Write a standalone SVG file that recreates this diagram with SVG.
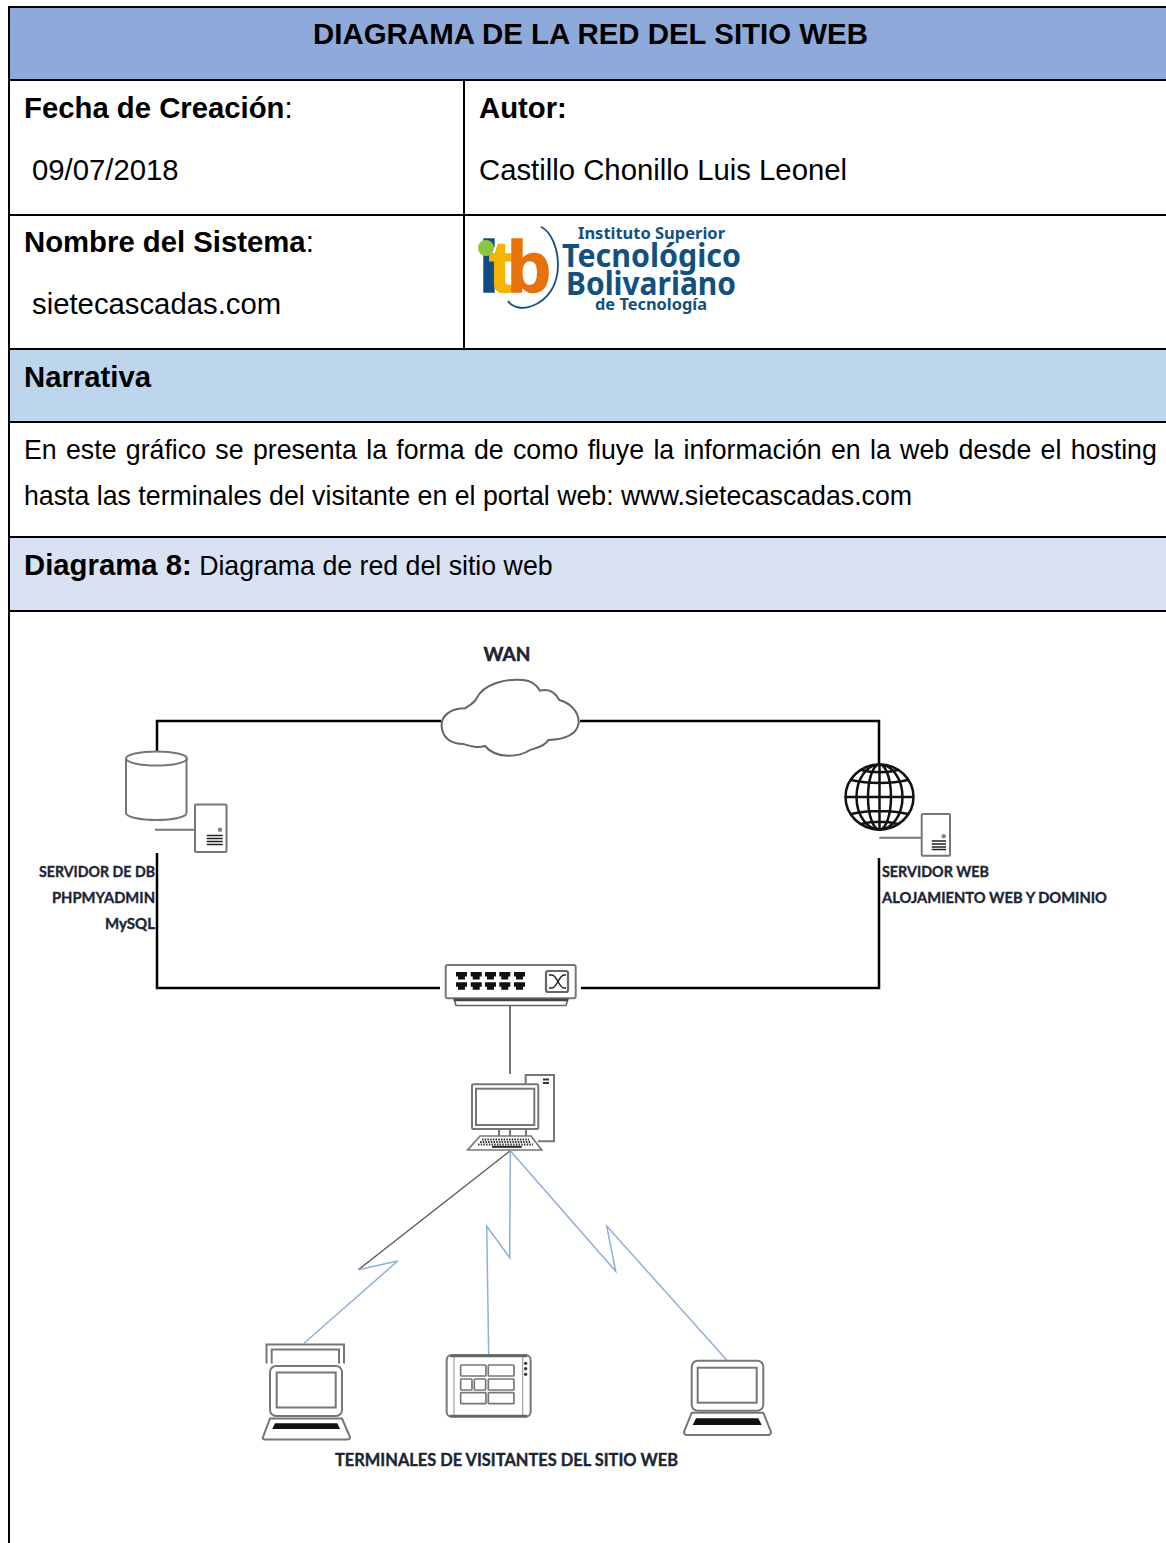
<svg xmlns="http://www.w3.org/2000/svg" width="1166" height="1543" viewBox="0 0 1166 1543">
<style>
text{font-family:"Liberation Sans",Arial,sans-serif;fill:#000}
.b{font-weight:bold}
.h{font-size:29.300px}
.p{font-size:29.300px}
.t{font-size:26.730px}
.l{font-family:Lato,"Liberation Sans",sans-serif;font-weight:bold;font-size:15px;fill:#1b2533;stroke:#1b2533;stroke-width:.35}
.g{fill:none;stroke:#111;stroke-width:2.5}
.i{fill:#fff;stroke:#777;stroke-width:2}
.n{fill:none;stroke:#777;stroke-width:2}
.d{fill:#111}
.w{fill:none;stroke-width:1.5;stroke:#8fb0d9}
.logo{font-family:"Noto Sans","Liberation Sans",sans-serif;font-weight:bold;fill:#12507f}
</style>
<rect width="1166" height="1543" fill="#fff"/>
<g id="table">
<rect x="9" y="7" width="1157" height="73" fill="#8eaadb"/>
<rect x="9" y="349" width="1157" height="73" fill="#bdd6ee"/>
<rect x="9" y="537" width="1157" height="74" fill="#d9e2f3"/>
<path d="M9,7H1166M9,80H1166M9,215H1166M9,349H1166M9,422H1166M9,537H1166M9,611H1166M9,6V1543M464,80V349" fill="none" stroke="#000" stroke-width="2"/>
<text class="b" style="font-size:29.450px" x="590.500" y="44" text-anchor="middle">DIAGRAMA DE LA RED DEL SITIO WEB</text>
<text class="h" x="24" y="118"><tspan class="b">Fecha de Creación</tspan>:</text>
<text class="p" x="32" y="180">09/07/2018</text>
<text class="b h" x="479" y="118">Autor:</text>
<text class="p" x="479" y="180">Castillo Chonillo Luis Leonel</text>
<text class="h" x="24" y="252"><tspan class="b">Nombre del Sistema</tspan>:</text>
<text class="p" x="32" y="314">sietecascadas.com</text>
<text class="b h" x="24" y="387">Narrativa</text>
<text class="t" x="24" y="459" word-spacing="1.900">En este gráfico se presenta la forma de como fluye la información en la web desde el hosting</text>
<text class="t" x="24" y="505">hasta las terminales del visitante en el portal web: www.sietecascadas.com</text>
<text class="t" x="24" y="575"><tspan class="b h">Diagrama 8:</tspan> Diagrama de red del sitio web</text>
</g>
<g id="logo">
<path d="M541,226.700C552,232 558,250 558,265C558,285 548,300 532,306C522,310 512,307 508,301" fill="none" stroke="#12507f" stroke-width="1.800"/>
<text x="479" y="292" font-size="72" font-weight="bold" stroke-width="1.500"><tspan x="479" fill="#0f4c81" stroke="#0f4c81">i</tspan><tspan x="489" fill="#f4b400" stroke="#f4b400">t</tspan><tspan x="507" fill="#e8710a" stroke="#e8710a">b</tspan></text>
<circle cx="486" cy="248" r="8" fill="#8cc63f"/>
<text class="logo" x="578" y="239" font-size="16" textLength="147" lengthAdjust="spacingAndGlyphs">Instituto Superior</text>
<text class="logo" x="562" y="267" font-size="32" textLength="179" lengthAdjust="spacingAndGlyphs">Tecnológico</text>
<text class="logo" x="566" y="295" font-size="32" textLength="170" lengthAdjust="spacingAndGlyphs">Bolivariano</text>
<text class="logo" x="595" y="310" font-size="16" textLength="112" lengthAdjust="spacingAndGlyphs">de Tecnología</text>
</g>
<g id="connectors">
<path d="M157,751V721H441M580,721H879V765M157,853V988H440M581,988H879V858" fill="none" stroke="#000" stroke-width="2.500"/>
<path d="M510,1006V1074" fill="none" stroke="#444" stroke-width="1.500"/>
<path d="M510.300,1150.700L358.300,1269.700" fill="none" stroke="#555" stroke-width="1.400"/>
<path class="w" d="M358.300,1269.700L397.700,1261L304,1343.300"/>
<path class="w" d="M510.300,1150.700L509.700,1257.700L486.700,1226L488.700,1355"/>
<path class="w" d="M510.300,1150.700L615.700,1271.300L606.700,1226L726.700,1360"/>
</g>
<g id="cloud" transform="translate(420 640) scale(.3333)">
<path d="M65,260C62,225 95,205 135,205C150,195 160,190 168,178C190,130 260,115 310,120C335,122 350,135 360,152C385,145 405,155 418,180C455,190 478,220 476,250C470,285 430,298 385,300C375,320 345,325 330,330C300,350 230,360 195,318C170,325 150,318 130,312C95,312 68,295 65,260Z" fill="#fff" stroke="#666" stroke-width="6"/>
</g>
<text id="wan" class="l" x="507" y="661" text-anchor="middle" style="font-size:19px;stroke-width:.5">WAN</text>
<g id="db">
<path class="n" d="M126,758V813C126,817 140,820 156.500,820C173,820 186.500,817 186.500,813V758"/>
<ellipse class="n" cx="156.500" cy="758.500" rx="30.500" ry="7"/>
<path class="n" d="M155,829.700H195"/>
<rect class="i" x="195" y="804.500" width="31.500" height="47.500" rx="1"/>
<circle cx="220" cy="829.700" r="2.300" fill="#888"/>
<path d="M206.700,835.500H222.700M206.700,838.500H222.700M206.700,841.500H222.700M206.700,844.500H222.700" stroke="#222" stroke-width="1.700"/>
<text class="l" x="155" y="877" text-anchor="end" textLength="116" lengthAdjust="spacingAndGlyphs">SERVIDOR DE DB</text>
<text class="l" x="155" y="903" text-anchor="end" textLength="103" lengthAdjust="spacingAndGlyphs">PHPMYADMIN</text>
<text class="l" x="155" y="929" text-anchor="end" textLength="50" lengthAdjust="spacingAndGlyphs">MySQL</text>
</g>
<g id="web">
<g class="g">
<ellipse cx="879.500" cy="797" rx="34" ry="32.500"/>
<ellipse cx="879.500" cy="797" rx="23" ry="32.500"/>
<ellipse cx="879.500" cy="797" rx="11.500" ry="32.500"/>
<path d="M879.500,764.500V829.500M846,797H913M851,780C868,784 891,784 908,780M851,814C868,810 891,810 908,814M861,770C872,773 887,773 898,770M861,824C872,821 887,821 898,824"/>
</g>
<path class="n" d="M879.300,837.700H921.700"/>
<rect class="i" x="921.700" y="814" width="28.300" height="41.700" rx="1"/>
<circle cx="943.700" cy="836.300" r="2.300" fill="#888"/>
<path d="M931.700,841H946M931.700,844H946M931.700,847H946M931.700,849.500H946" stroke="#222" stroke-width="1.600"/>
<text class="l" x="882" y="877" textLength="107" lengthAdjust="spacingAndGlyphs">SERVIDOR WEB</text>
<text class="l" x="882" y="903" textLength="225" lengthAdjust="spacingAndGlyphs">ALOJAMIENTO WEB Y DOMINIO</text>
</g>
<g id="switch">
<rect class="i" x="445.700" y="965" width="130" height="33.300" rx="2"/>
<path d="M454,999H568L566,1005.500H456Z" fill="#fff" stroke="#666" stroke-width="1.600"/>
<path d="M454,1000H568" stroke="#444" stroke-width="2.500"/>
<g fill="#111">
<path id="port" d="M456,972H467V976.500H465V979.500H458V976.500H456Z"/>
<use href="#port" x="14.700"/><use href="#port" x="29"/><use href="#port" x="43.300"/><use href="#port" x="58"/>
<use href="#port" y="10.300"/><use href="#port" x="14.700" y="10.300"/><use href="#port" x="29" y="10.300"/><use href="#port" x="43.300" y="10.300"/><use href="#port" x="58" y="10.300"/>
</g>
<rect x="546" y="971" width="22" height="21" rx="2" fill="#fff" stroke="#666" stroke-width="2.200"/>
<path d="M549,975H552C557,975 559,988 564,988H566M549,988H552C557,988 559,975 564,975H566" fill="none" stroke="#222" stroke-width="1.500"/>
</g>
<g id="pc">
<path class="n" d="M525.700,1084V1075H554V1141.300H538"/>
<path class="n" d="M543,1079.500H549M543,1083H549" style="stroke:#333"/>
<rect class="i" x="472" y="1084.300" width="66.300" height="44.700" rx="1.500"/>
<rect class="n" x="476" y="1088.700" width="58.300" height="36.300"/>
<path class="n" d="M499,1129V1136M510,1129V1136M526,1129V1136"/>
<path d="M480,1136H531L541.700,1150H467.700Z" fill="#fff" stroke="#777" stroke-width="1.700"/>
<path d="M482,1139.500H529M480,1142H531M478,1144.500H533" stroke="#333" stroke-width="1.800" stroke-dasharray="1.500 1.200"/>
<path d="M492,1146.800H521.700" stroke="#222" stroke-width="2"/>
</g>
<g id="laptop1">
<path class="n" d="M266.500,1363.500V1344.500H344V1363.500M271.700,1363.500V1349.500H339V1363.500"/>
<rect class="n" x="270" y="1366" width="72" height="50" rx="6"/>
<rect class="n" x="276.700" y="1372.500" width="59" height="35"/>
<path d="M270,1418.500H342L350,1437C350,1439 348,1439.500 347,1439.500H265C263,1439.500 262.500,1438 263,1437Z" fill="#fff" stroke="#777" stroke-width="2"/>
<path class="d" d="M275,1423.300H337.300L340,1429H272.300Z"/>
</g>
<g id="tablet" transform="translate(250 1330) scale(.3333)">
<rect x="590" y="75" width="252" height="185" rx="15" fill="#fff" stroke="#777" stroke-width="6"/>
<path d="M612,80V255M818,80V255" stroke="#aaa" stroke-width="4"/>
<path d="M600,78H832M600,258H832" stroke="#666" stroke-width="7"/>
<g fill="#fff" stroke="#777" stroke-width="5">
<rect x="632" y="105" width="76" height="33" rx="2"/><rect x="715" y="105" width="77" height="33" rx="2"/>
<rect x="632" y="147" width="34" height="33" rx="2"/><rect x="673" y="147" width="34" height="33" rx="2"/><rect x="715" y="147" width="77" height="33" rx="2"/>
<rect x="632" y="188" width="76" height="33" rx="2"/><rect x="715" y="188" width="77" height="33" rx="2"/>
</g>
<circle cx="827" cy="100" r="5" fill="#333"/><circle cx="827" cy="116" r="5" fill="#333"/><circle cx="827" cy="133" r="5" fill="#333"/>
</g>
<g id="laptop2">
<rect class="n" x="691.700" y="1360.700" width="71.600" height="50" rx="6"/>
<rect class="n" x="697.700" y="1367.700" width="59" height="35"/>
<path d="M691.700,1412.700H763.300L771,1432C771,1434 770,1435 768,1435H687C685,1435 684,1434 684,1432Z" fill="#fff" stroke="#777" stroke-width="2"/>
<path class="d" d="M696,1418.300H758.300L761.700,1425H692.700Z"/>
</g>
<text id="terminales" class="l" x="335" y="1466" style="font-size:16.500px" textLength="343" lengthAdjust="spacingAndGlyphs">TERMINALES DE VISITANTES DEL SITIO WEB</text>
</svg>
